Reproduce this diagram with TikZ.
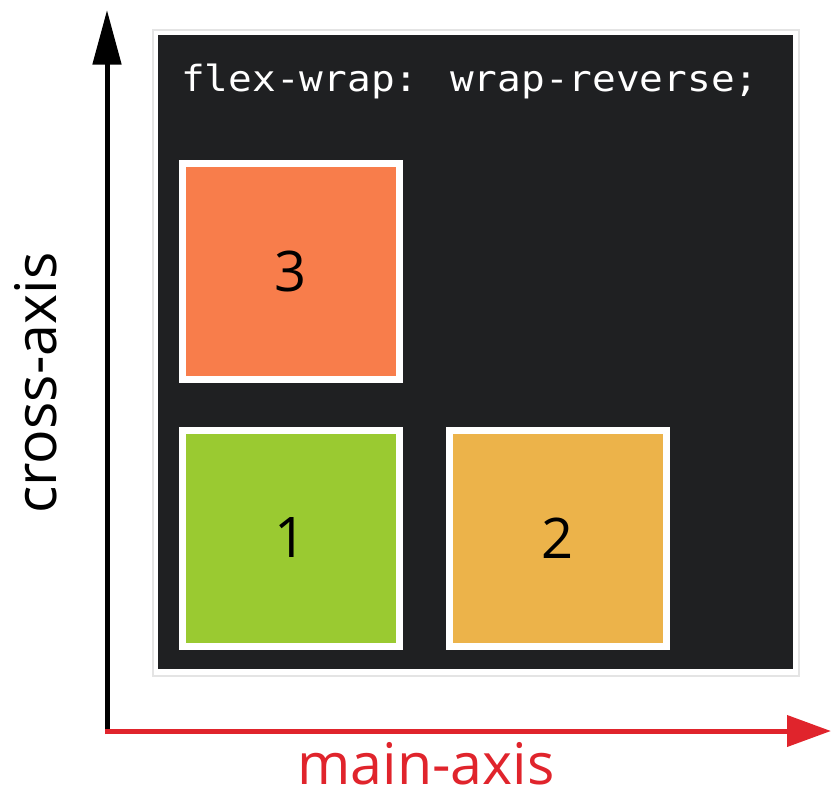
\documentclass[tikz,border=0pt]{standalone}
\usepackage{fontspec}
\setmainfont{Open Sans}
\newfontfamily\codefont{DejaVu Sans Mono}
\usetikzlibrary{arrows.meta}
\definecolor{darkbg}{HTML}{1F2022}
\definecolor{frameg}{HTML}{E4E4E4}
\definecolor{boxorange}{HTML}{F87D4B}
\definecolor{boxgreen}{HTML}{9ACA31}
\definecolor{boxyellow}{HTML}{ECB34A}
\definecolor{axisred}{HTML}{E0242C}
\tikzset{
  itembox/.style={draw=white, line width=5.25pt, minimum width=162.75pt, minimum height=162pt,
    inner sep=0pt, font=\fontsize{42}{42}\selectfont, text=black},
  axislabel/.style={font=\fontsize{43}{43}\selectfont},
}
\begin{document}
\begin{tikzpicture}[x=0.75pt,y=-0.75pt]
\useasboundingbox (0,0) rectangle (831,799);
% frame and dark panel
\draw[frameg, line width=1pt, fill=white] (153,30) rectangle (799,676);
\fill[darkbg] (158,35) rectangle (793,669);
\node[anchor=base west, inner sep=0pt, text=white] (code) at (181,92)
  {\resizebox{433pt}{\height}{\codefont\fontsize{27}{27}\selectfont flex-wrap: wrap-reverse;}};
% items
\node[itembox, fill=boxorange] (b3) at (291,271.5) {3};
\node[itembox, fill=boxgreen] (b1) at (291,538) {1};
\node[itembox, fill=boxyellow] (b2) at (557.5,538) {2};
% axes
\coordinate (origin) at (107,734);
\coordinate (ytop) at (107,10);
\coordinate (xstart) at (105,731);
\coordinate (xend) at (831,731);
\draw[line width=3.75pt, -{Triangle[length=41pt,width=21pt]}] (origin) -- (ytop);
\draw[axisred, line width=3.75pt, -{Triangle[length=33pt,width=23pt]}] (xstart) -- (xend);
\node[axislabel, anchor=base, rotate=90, inner sep=0pt] (cross) at (56,383) {cross-axis};
\node[axislabel, anchor=base, inner sep=0pt, text=axisred] (main) at (426,784) {main-axis};
\end{tikzpicture}
\end{document}
